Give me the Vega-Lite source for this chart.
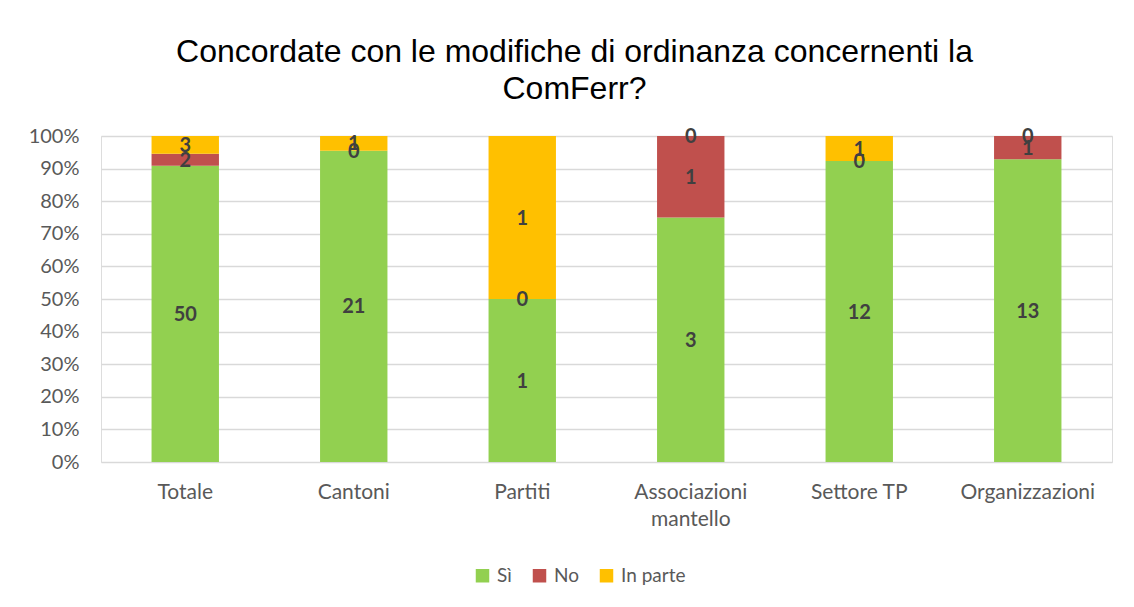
{
  "$schema": "https://vega.github.io/schema/vega-lite/v6.json",
  "autosize": {"type": "none"},
  "width": 1011,
  "height": 326,
  "padding": {"left": 101, "top": 136, "right": 22, "bottom": 145},
  "background": "white",
  "title": {
    "text": ["Concordate con le modifiche di ordinanza concernenti la", "ComFerr?"],
    "font": "Liberation Sans",
    "fontSize": 32,
    "fontWeight": "normal",
    "color": "#000000",
    "lineHeight": 37,
    "anchor": "middle",
    "frame": "group",
    "dx": -32,
    "offset": 20
  },
  "data": {
    "values": [
      {"gruppo": "Totale", "risposta": "Sì", "n": 50},
      {"gruppo": "Totale", "risposta": "No", "n": 2},
      {"gruppo": "Totale", "risposta": "In parte", "n": 3},
      {"gruppo": "Cantoni", "risposta": "Sì", "n": 21},
      {"gruppo": "Cantoni", "risposta": "No", "n": 0},
      {"gruppo": "Cantoni", "risposta": "In parte", "n": 1},
      {"gruppo": "Partiti", "risposta": "Sì", "n": 1},
      {"gruppo": "Partiti", "risposta": "No", "n": 0},
      {"gruppo": "Partiti", "risposta": "In parte", "n": 1},
      {"gruppo": "Associazioni mantello", "risposta": "Sì", "n": 3},
      {"gruppo": "Associazioni mantello", "risposta": "No", "n": 1},
      {"gruppo": "Associazioni mantello", "risposta": "In parte", "n": 0},
      {"gruppo": "Settore TP", "risposta": "Sì", "n": 12},
      {"gruppo": "Settore TP", "risposta": "No", "n": 0},
      {"gruppo": "Settore TP", "risposta": "In parte", "n": 1},
      {"gruppo": "Organizzazioni", "risposta": "Sì", "n": 13},
      {"gruppo": "Organizzazioni", "risposta": "No", "n": 1},
      {"gruppo": "Organizzazioni", "risposta": "In parte", "n": 0}
    ]
  },
  "encoding": {
    "x": {
      "field": "gruppo",
      "type": "nominal",
      "sort": null,
      "scale": {"paddingInner": 0.6, "paddingOuter": 0.3},
      "axis": {
        "title": null,
        "labelAngle": 0,
        "labelFont": "Lato",
        "labelFontSize": 21,
        "labelColor": "#595959",
        "labelPadding": 19,
        "labelLineHeight": 27,
        "ticks": false,
        "tickSize": 0,
        "domain": false,
        "grid": false,
        "labelExpr": "datum.label == 'Associazioni mantello' ? ['Associazioni', 'mantello'] : datum.label"
      }
    },
    "y": {
      "field": "n",
      "type": "quantitative",
      "stack": "normalize",
      "scale": {"domain": [0, 1], "nice": false},
      "axis": {
        "title": null,
        "format": ".0%",
        "values": [0, 0.1, 0.2, 0.3, 0.4, 0.5, 0.6, 0.7, 0.8, 0.9, 1],
        "labelFont": "Lato",
        "labelFontSize": 20,
        "labelColor": "#595959",
        "labelPadding": 22,
        "ticks": false,
        "tickSize": 0,
        "domain": false,
        "grid": true,
        "gridColor": "#d9d9d9",
        "gridWidth": 1.5
      }
    },
    "order": {"field": "risposta", "sort": "descending"}
  },
  "layer": [
    {
      "mark": {"type": "bar"},
      "encoding": {
        "color": {
          "field": "risposta",
          "type": "nominal",
          "scale": {"domain": ["Sì", "No", "In parte"], "range": ["#92D050", "#C0504D", "#FFC000"]},
          "legend": {
            "title": null,
            "orient": "none",
            "direction": "horizontal",
            "legendX": 372,
            "legendY": 430,
            "padding": 0,
            "symbolType": "square",
            "symbolSize": 182,
            "symbolStrokeWidth": 0,
            "symbolOpacity": 1,
            "labelFont": "Lato",
            "labelFontSize": 19,
            "labelColor": "#595959",
            "labelOffset": 5,
            "columnPadding": 18
          }
        }
      }
    },
    {
      "mark": {"type": "text", "font": "Lato", "fontSize": 20, "fontWeight": "bold", "color": "#404040", "baseline": "middle", "dy": 1},
      "encoding": {
        "y": {"field": "n", "type": "quantitative", "stack": "normalize", "bandPosition": 0.5},
        "text": {"field": "n", "type": "quantitative"},
        "detail": {"field": "risposta"}
      }
    }
  ]
}
